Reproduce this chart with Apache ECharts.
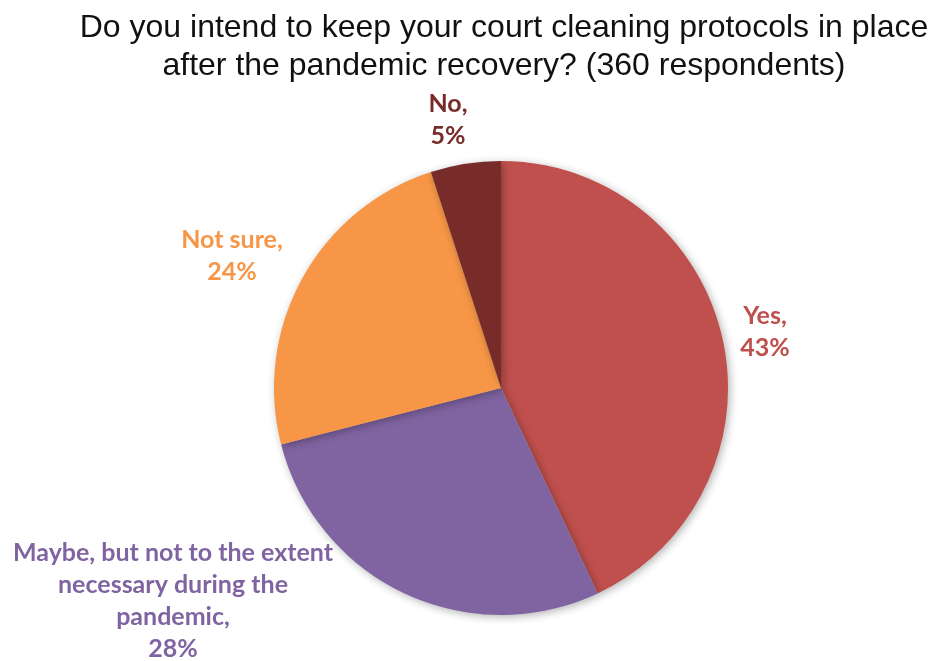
<!DOCTYPE html>
<html>
<head>
<meta charset="utf-8">
<script src="https://cdn.jsdelivr.net/npm/echarts@6/dist/echarts.min.js"></script>
<style>
  html, body { margin: 0; padding: 0; background: #fff; }
  #chart { width: 932px; height: 661px; }
</style>
</head>
<body>
<div id="chart"></div>
<script>
// answers, clockwise from 12 o'clock
const categories = ['Yes', 'Maybe, but not to the extent\nnecessary during the\npandemic', 'Not sure', 'No'];
const shares = [43, 28, 24, 5];
const colors = ['#C0504D', '#8064A2', '#F79646', '#772C2A'];
const titleLines = ['Do you intend to keep your court cleaning protocols in place', 'after the pandemic recovery? (360 respondents)'];

// where the excel-style labels sit (centre of each text block)
const labelSpots = [[765, 332], [173, 601], [232, 256], [448, 120]];

const myChart = echarts.init(document.getElementById('chart'));
const option = {
  animation: false,
  graphic: [{
    type: 'text',
    x: 504,
    y: 9,
    style: {
      text: titleLines.join('\n'),
      font: '32px "Liberation Sans", Arial, sans-serif',
      fill: '#111',
      align: 'center',
      verticalAlign: 'top',
      lineHeight: 38
    }
  }],
  series: [{
    type: 'pie',
    center: [501, 388],
    radius: 227,
    startAngle: 90,
    clockwise: true,
    data: categories.map((name, i) => ({
      name: name,
      value: shares[i],
      itemStyle: { color: colors[i] },
      label: { color: colors[i] }
    })),
    itemStyle: {
      borderWidth: 0,
      shadowBlur: 8,
      shadowOffsetX: 2,
      shadowOffsetY: 2,
      shadowColor: 'rgba(0,0,0,0.3)'
    },
    label: {
      show: true,
      position: 'outside',
      formatter: '{b},\n{d}%',
      fontFamily: 'Lato, "Open Sans", sans-serif',
      fontWeight: 'bold',
      fontSize: 25,
      lineHeight: 32,
      align: 'center'
    },
    labelLine: { show: false },
    labelLayout: function (params) {
      const p = labelSpots[params.dataIndex];
      return { x: p[0], y: p[1], align: 'center', verticalAlign: 'middle' };
    },
    emphasis: { disabled: true }
  }]
};
myChart.setOption(option, true);
window.addEventListener('resize', function () {
  myChart.resize();
});
</script>
</body>
</html>
